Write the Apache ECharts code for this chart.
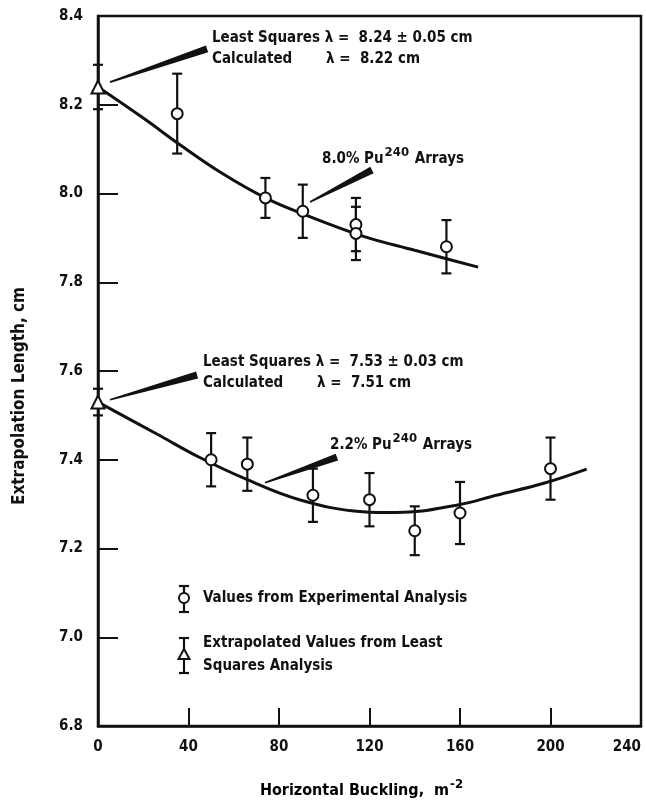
<!DOCTYPE html>
<html>
<head>
<meta charset="utf-8">
<title>Extrapolation Length vs Horizontal Buckling</title>
<script src="https://cdn.jsdelivr.net/npm/echarts@6/dist/echarts.min.js"></script>
<style>
html, body { margin: 0; padding: 0; background: #fff; }
#chart { width: 646px; height: 802px; }
</style>
</head>
<body>
<div id="chart"></div>
<script>
// 8.0% Pu240 arrays: experimental points
var upperX = [35, 74, 90.5, 114, 114, 154];
var upperY = [8.18, 7.99, 7.96, 7.93, 7.91, 7.88];
var upperErr = [0.09, 0.045, 0.06, 0.06, 0.06, 0.06];
// least squares extrapolated value
var upperLS = [0, 8.24, 0.05];
// fitted curve
var upperCurveX = [0, 20, 37, 55, 74, 90, 117, 140, 154, 168];
var upperCurveY = [8.24, 8.17, 8.107, 8.045, 7.99, 7.955, 7.904, 7.872, 7.853, 7.834];

// 2.2% Pu240 arrays
var lowerX = [50, 66, 95, 120, 140, 160, 200];
var lowerY = [7.40, 7.39, 7.32, 7.31, 7.24, 7.28, 7.38];
var lowerErr = [0.06, 0.06, 0.06, 0.06, 0.055, 0.07, 0.07];
var lowerLS = [0, 7.53, 0.03];
var lowerCurveX = [0, 26, 45, 66, 89, 117, 132, 159, 176, 197, 216];
var lowerCurveY = [7.53, 7.458, 7.405, 7.355, 7.31, 7.283, 7.281, 7.298, 7.32, 7.347, 7.379];

// axis ticks
var xTicks = [0, 40, 80, 120, 160, 200, 240];
var yTicks = [6.8, 7.0, 7.2, 7.4, 7.6, 7.8, 8.0, 8.2, 8.4];

// leader wedges [x0, y0, x1, y1] in data units
var leaders = [
    [5.3, 8.251, 48.2, 8.326],
    [93.7, 7.981, 121.1, 8.053],
    [5.3, 7.535, 43.8, 7.591],
    [73.8, 7.348, 105.6, 7.406]
];

var INK = '#111';
var FONT = '"Liberation Sans Narrow", "DejaVu Sans Condensed", sans-serif';

function zip(xs, ys) {
    return xs.map(function (x, i) { return [x, ys[i]]; });
}
function zip3(xs, ys, es) {
    return xs.map(function (x, i) { return [x, ys[i], es[i]]; });
}

function renderErr(params, api) {
    var x = api.value(0), y = api.value(1), e = api.value(2);
    var t = api.coord([x, y + e]);
    var b = api.coord([x, y - e]);
    var w = 5;
    var st = { stroke: INK, lineWidth: 2.2 };
    return {
        type: 'group',
        children: [
            { type: 'line', shape: { x1: t[0], y1: t[1], x2: b[0], y2: b[1] }, style: st },
            { type: 'line', shape: { x1: t[0] - w, y1: t[1], x2: t[0] + w, y2: t[1] }, style: st },
            { type: 'line', shape: { x1: b[0] - w, y1: b[1], x2: b[0] + w, y2: b[1] }, style: st }
        ]
    };
}

function renderLeader(params, api) {
    var p0 = api.coord([api.value(0), api.value(1)]);
    var p1 = api.coord([api.value(2), api.value(3)]);
    var dx = p1[0] - p0[0], dy = p1[1] - p0[1];
    var len = Math.sqrt(dx * dx + dy * dy);
    var nx = -dy / len, ny = dx / len;
    var w0 = 0.8, w1 = 3.6;
    return {
        type: 'polygon',
        shape: {
            points: [
                [p0[0] + nx * w0, p0[1] + ny * w0],
                [p1[0] + nx * w1, p1[1] + ny * w1],
                [p1[0] - nx * w1, p1[1] - ny * w1],
                [p0[0] - nx * w0, p0[1] - ny * w0]
            ]
        },
        style: { fill: INK }
    };
}

function txt(x, y, text, size, rich) {
    return {
        type: 'text', x: x, y: y, z: 10,
        style: {
            text: text, fill: INK, verticalAlign: 'middle',
            font: 'bold ' + size + 'px ' + FONT,
            rich: rich || {}
        }
    };
}

var supRich = {
    n: { fontSize: 15, fontWeight: 'bold', fontFamily: FONT, color: INK },
    sup: { fontSize: 13, fontWeight: 'bold', fontFamily: FONT, color: INK, padding: [0, 1, 13, 1] }
};
var nameRich = {
    n: { fontSize: 16, fontWeight: 'bold', fontFamily: FONT, color: INK },
    sup: { fontSize: 13, fontWeight: 'bold', fontFamily: FONT, color: INK, padding: [0, 1, 13, 1] }
};

var chart = echarts.init(document.getElementById('chart'));

var gridL = 98, gridT = 16, gridW = 543, gridH = 710;

// legend marks
function legendMark(cx, cy, top, bot, symbol) {
    var st = { stroke: INK, lineWidth: 2.2 };
    var items = [
        { type: 'line', z: 10, shape: { x1: cx, y1: top, x2: cx, y2: bot }, style: st },
        { type: 'line', z: 10, shape: { x1: cx - 5, y1: top, x2: cx + 5, y2: top }, style: st },
        { type: 'line', z: 10, shape: { x1: cx - 5, y1: bot, x2: cx + 5, y2: bot }, style: st }
    ];
    if (symbol === 'circle') {
        items.push({ type: 'circle', z: 11, shape: { cx: cx, cy: cy, r: 5 }, style: { fill: '#fff', stroke: INK, lineWidth: 2 } });
    } else {
        items.push({ type: 'polygon', z: 11, shape: { points: [[cx, cy - 6], [cx + 5.5, cy + 4], [cx - 5.5, cy + 4]] }, style: { fill: '#fff', stroke: INK, lineWidth: 2 } });
    }
    return items;
}

var graphics = [
    txt(212, 38, 'Least Squares λ =  8.24 ± 0.05 cm', 15),
    txt(212, 59, 'Calculated', 15),
    txt(326, 59, 'λ =  8.22 cm', 15),
    txt(322, 159, '{n|8.0% Pu}{sup|240}{n| Arrays}', 15, supRich),
    txt(203, 362, 'Least Squares λ =  7.53 ± 0.03 cm', 15),
    txt(203, 383, 'Calculated', 15),
    txt(317, 383, 'λ =  7.51 cm', 15),
    txt(330, 445, '{n|2.2% Pu}{sup|240}{n| Arrays}', 15, supRich),
    txt(203, 598, 'Values from Experimental Analysis', 15),
    txt(203, 643, 'Extrapolated Values from Least', 15),
    txt(203, 666, 'Squares Analysis', 15),
    // axis titles
    {
        type: 'text', x: 362, y: 791, z: 10,
        style: {
            text: '{n|Horizontal Buckling,  m}{sup|-2}', rich: nameRich,
            align: 'center', verticalAlign: 'middle'
        }
    },
    {
        type: 'text', x: 20, y: 396, z: 10, rotation: Math.PI / 2,
        style: {
            text: 'Extrapolation Length, cm', fill: INK,
            font: 'bold 17px ' + FONT, align: 'center', verticalAlign: 'middle'
        }
    }
].concat(legendMark(184, 598, 586, 612, 'circle'))
 .concat(legendMark(184, 655, 638, 673, 'triangle'));

chart.setOption({
    animation: false,
    backgroundColor: '#fff',
    grid: {
        left: gridL, top: gridT, width: gridW, height: gridH,
        outerBoundsMode: 'none', containLabel: false,
        show: true, borderColor: INK, borderWidth: 2.5, backgroundColor: 'transparent'
    },
    xAxis: {
        type: 'value', min: xTicks[0], max: xTicks[xTicks.length - 1], interval: 40,
        axisLine: { show: true, onZero: false, lineStyle: { color: INK, width: 2.5 } },
        axisTick: { show: true, inside: true, length: 18, lineStyle: { color: INK, width: 2 } },
        axisLabel: {
            color: INK, fontSize: 15, fontWeight: 'bold', fontFamily: FONT, margin: 14,
            alignMaxLabel: 'right'
        },
        splitLine: { show: false }
    },
    yAxis: {
        type: 'value', min: yTicks[0], max: yTicks[yTicks.length - 1], interval: 0.2,
        axisLine: { show: true, onZero: false, lineStyle: { color: INK, width: 2.5 } },
        axisTick: { show: true, inside: true, length: 20, lineStyle: { color: INK, width: 2 } },
        axisLabel: {
            color: INK, fontSize: 15, fontWeight: 'bold', fontFamily: FONT, margin: 15,
            formatter: function (v) { return v.toFixed(1); }
        },
        splitLine: { show: false }
    },
    graphic: graphics,
    series: [
        {
            type: 'line', data: zip(upperCurveX, upperCurveY), smooth: 0.4,
            showSymbol: false, lineStyle: { color: INK, width: 3 }, z: 2
        },
        {
            type: 'line', data: zip(lowerCurveX, lowerCurveY), smooth: 0.4,
            showSymbol: false, lineStyle: { color: INK, width: 3 }, z: 2
        },
        {
            type: 'custom', renderItem: renderLeader, clip: false, z: 2,
            data: leaders
        },
        {
            type: 'custom', renderItem: renderErr, clip: false, z: 3,
            data: zip3(upperX, upperY, upperErr)
                .concat(zip3(lowerX, lowerY, lowerErr))
                .concat([upperLS, lowerLS])
        },
        {
            type: 'scatter', symbol: 'circle', symbolSize: 11, z: 4,
            itemStyle: { color: '#fff', borderColor: INK, borderWidth: 2, opacity: 1 },
            data: zip(upperX, upperY).concat(zip(lowerX, lowerY))
        },
        {
            type: 'scatter', symbol: 'triangle', symbolSize: 13, z: 4, clip: false,
            itemStyle: { color: '#fff', borderColor: INK, borderWidth: 2, opacity: 1 },
            data: [[upperLS[0], upperLS[1]], [lowerLS[0], lowerLS[1]]]
        }
    ]
});
</script>
</body>
</html>
